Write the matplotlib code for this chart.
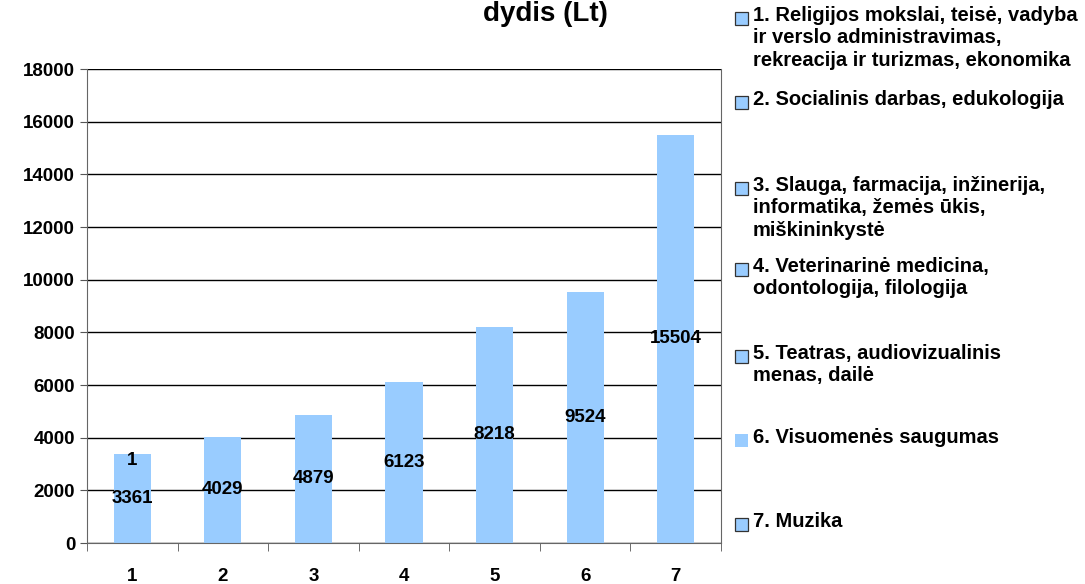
import matplotlib.pyplot as plt
from matplotlib.patches import Rectangle
import numpy as np

plt.rcParams['font.family'] = ['Liberation Sans', 'DejaVu Sans']
plt.rcParams['font.weight'] = 'bold'

categories = ['1', '2', '3', '4', '5', '6', '7']
values = [3361, 4029, 4879, 6123, 8218, 9524, 15504]
legend_labels = [
    '1. Religijos mokslai, teisė, vadyba\nir verslo administravimas,\nrekreacija ir turizmas, ekonomika',
    '2. Socialinis darbas, edukologija',
    '3. Slauga, farmacija, inžinerija,\ninformatika, žemės ūkis,\nmiškininkystė',
    '4. Veterinarinė medicina,\nodontologija, filologija',
    '5. Teatras, audiovizualinis\nmenas, dailė',
    '6. Visuomenės saugumas',
    '7. Muzika',
]
legend_y = [18, 102, 188, 269, 356, 440, 524]  # pixel rows of first line
bar_color = '#99CCFF'

fig = plt.figure(figsize=(10.85, 5.84), dpi=100)
ax = fig.add_axes([87 / 1085, 1 - 543 / 584, (721 - 87) / 1085, (543 - 69) / 584])

x = np.arange(len(categories))
bars = ax.bar(x, values, width=0.41, color=bar_color, zorder=2)
ax.set_xlim(-0.5, len(categories) - 0.5)
ax.set_ylim(0, 18000)
ax.set_yticks(np.arange(0, 18001, 2000))
ax.yaxis.grid(True, color='black', linewidth=1, zorder=1)
ax.set_axisbelow(True)

for xi, v in zip(x, values):
    ax.text(xi, v / 2, str(v), ha='center', va='center', fontsize=13.5, fontweight='bold', zorder=3)
ax.text(x[0], values[0] + 80, '1', ha='center', va='top', fontsize=13.5, fontweight='bold', zorder=3)

ax.set_xticks(x)
ax.set_xticklabels(categories)
ax.set_xticks(np.arange(-0.5, len(categories), 1), minor=True)
ax.tick_params(axis='x', which='major', length=0, pad=18, labelsize=13.5)
ax.tick_params(axis='x', which='minor', length=6, direction='out', color='#555555')
ax.tick_params(axis='y', length=5, color='#555555', labelsize=13.5)
for lbl in ax.get_xticklabels() + ax.get_yticklabels():
    lbl.set_fontweight('bold')

ax.spines['top'].set_visible(False)
for s in ['left', 'bottom', 'right']:
    ax.spines[s].set_color('#666666')

fig.text(545 / 1085, 1 - 21 / 584, 'dydis (Lt)', ha='center', va='baseline', fontsize=20, fontweight='bold')

for i, (lab, yp) in enumerate(zip(legend_labels, legend_y)):
    ec = 'none' if i == 5 else '#333333'
    fig.patches.append(Rectangle((735 / 1085, 1 - (yp + 7) / 584), 13 / 1085, 13 / 584,
                                 transform=fig.transFigure, facecolor=bar_color,
                                 edgecolor=ec, linewidth=0.9, figure=fig))
    fig.text(753 / 1085, 1 - (yp - 12) / 584, lab, ha='left', va='top', fontsize=14.5,
             fontweight='bold', linespacing=1.22)

fig.savefig('out.png', dpi=100)
